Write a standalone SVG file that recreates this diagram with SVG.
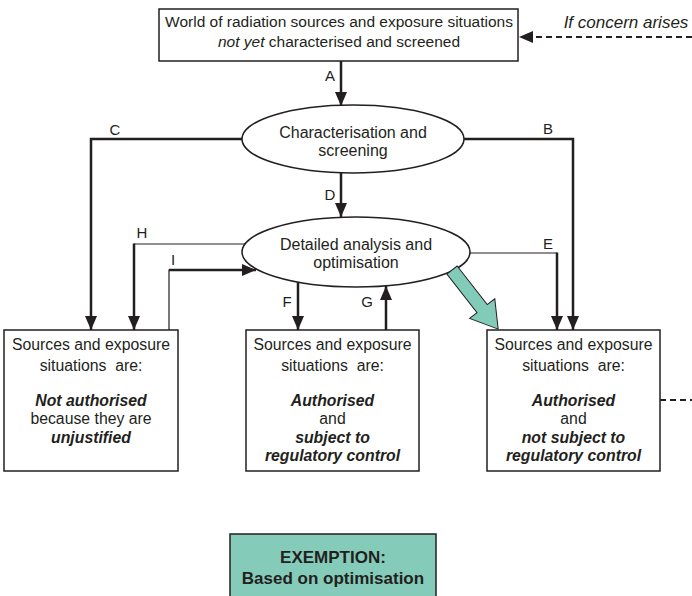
<svg xmlns="http://www.w3.org/2000/svg" width="692" height="596" viewBox="0 0 692 596">
<style>
text{font-family:"Liberation Sans",Arial,sans-serif;fill:#231f20;text-anchor:middle}
.t{font-size:15.5px}
.e{font-size:16px}
.b{font-size:15.8px}
.bi{font-size:15.8px;font-weight:bold;font-style:italic}
.lbl{font-size:15px}
.box{fill:#fff;stroke:#231f20;stroke-width:1.5}
.thick{fill:none;stroke:#231f20;stroke-width:2.5}
.thin{fill:none;stroke:#231f20;stroke-width:1.2}
.dash{fill:none;stroke:#231f20;stroke-width:2;stroke-dasharray:6 4}
.teal{fill:#82cbb8;stroke:#231f20;stroke-width:1}
</style>
<defs>
<marker id="ah" markerUnits="userSpaceOnUse" markerWidth="14" markerHeight="14" viewBox="0 0 14 14" refX="14" refY="7" orient="auto">
<path d="M0,1 L14,7 L0,13 z" fill="#231f20"/>
</marker>
</defs>

<g id="top">
<rect class="box" x="159" y="9" width="359" height="52"/>
<text class="t" x="339" y="27">World of radiation sources and exposure situations</text>
<text class="t" x="339" y="47"><tspan font-style="italic">not yet</tspan> characterised and screened</text>
</g>

<g id="concern">
<text x="626" y="28" font-size="17" font-style="italic">If concern arises</text>
</g>

<g id="screen">
<ellipse class="box" cx="353" cy="139" rx="111" ry="34"/>
<text class="e" x="353" y="137.5">Characterisation and</text>
<text class="e" x="353" y="155.5">screening</text>
</g>

<g id="analysis">
<ellipse class="box" cx="356" cy="252" rx="114" ry="35"/>
<text class="e" x="356" y="249.5">Detailed analysis and</text>
<text class="e" x="356" y="267.5">optimisation</text>
</g>

<g id="notauth">
<rect class="box" x="4" y="330" width="174" height="141"/>
<text class="b" x="91" y="349.5">Sources and exposure</text>
<text class="b" x="91" y="370.5" xml:space="preserve">situations  are:</text>
<text class="bi" x="91" y="405.5">Not authorised</text>
<text class="b" x="91" y="423.5">because they are</text>
<text class="bi" x="91" y="442.5">unjustified</text>
</g>

<g id="authctrl">
<rect class="box" x="246" y="330" width="173" height="141"/>
<text class="b" x="332.5" y="349.5">Sources and exposure</text>
<text class="b" x="332.5" y="370.5" xml:space="preserve">situations  are:</text>
<text class="bi" x="332.5" y="405.5">Authorised</text>
<text class="b" x="332.5" y="423.5">and</text>
<text class="bi" x="332.5" y="442.5">subject to</text>
<text class="bi" x="332.5" y="460.5">regulatory control</text>
</g>

<g id="authnoctrl">
<rect class="box" x="487" y="330" width="173" height="141"/>
<text class="b" x="573.5" y="349.5">Sources and exposure</text>
<text class="b" x="573.5" y="370.5" xml:space="preserve">situations  are:</text>
<text class="bi" x="573.5" y="405.5">Authorised</text>
<text class="b" x="573.5" y="423.5">and</text>
<text class="bi" x="573.5" y="442.5">not subject to</text>
<text class="bi" x="573.5" y="460.5">regulatory control</text>
</g>

<g id="exemption">
<rect x="230" y="534" width="206" height="70" fill="#84ccb9" stroke="#231f20" stroke-width="1.5"/>
<text x="333" y="563" font-size="17" font-weight="bold">EXEMPTION:</text>
<text x="333" y="584" font-size="17" font-weight="bold">Based on optimisation</text>
</g>

<g id="connectors">
<path class="dash" d="M692,37 H531"/>
<path d="M519,37 L533,31 L533,43 z" fill="#231f20"/>
<path class="dash" d="M660,400 H692"/>
<path class="thick" d="M341,61 V106" marker-end="url(#ah)"/>
<path class="thick" d="M341,173 V217" marker-end="url(#ah)"/>
<path class="thick" d="M242,139 H91 V330" marker-end="url(#ah)"/>
<path class="thick" d="M464,139 H573 V330" marker-end="url(#ah)"/>
<path class="thin" d="M245,244 H134"/>
<path class="thick" d="M134,243.5 V330" marker-end="url(#ah)"/>
<path class="thin" d="M469,253 H557"/>
<path class="thick" d="M557,252.5 V330" marker-end="url(#ah)"/>
<path class="thin" d="M169,330 V270 H180"/>
<path class="thick" d="M169,270 H256" marker-end="url(#ah)"/>
<path class="thick" d="M298,282 V330" marker-end="url(#ah)"/>
<path class="thick" d="M386,330 V286" marker-end="url(#ah)"/>
<polygon class="teal" transform="translate(452,270) rotate(52)" points="0,-6.5 49,-6.5 49,-16 75,0 49,16 49,6.5 0,6.5"/>
<text class="lbl" x="330" y="81">A</text>
<text class="lbl" x="548" y="134">B</text>
<text class="lbl" x="115" y="135">C</text>
<text class="lbl" x="330" y="200">D</text>
<text class="lbl" x="548" y="249">E</text>
<text class="lbl" x="287" y="307">F</text>
<text class="lbl" x="367" y="307">G</text>
<text class="lbl" x="142" y="238">H</text>
<text class="lbl" x="173" y="265">I</text>
</g>
</svg>
